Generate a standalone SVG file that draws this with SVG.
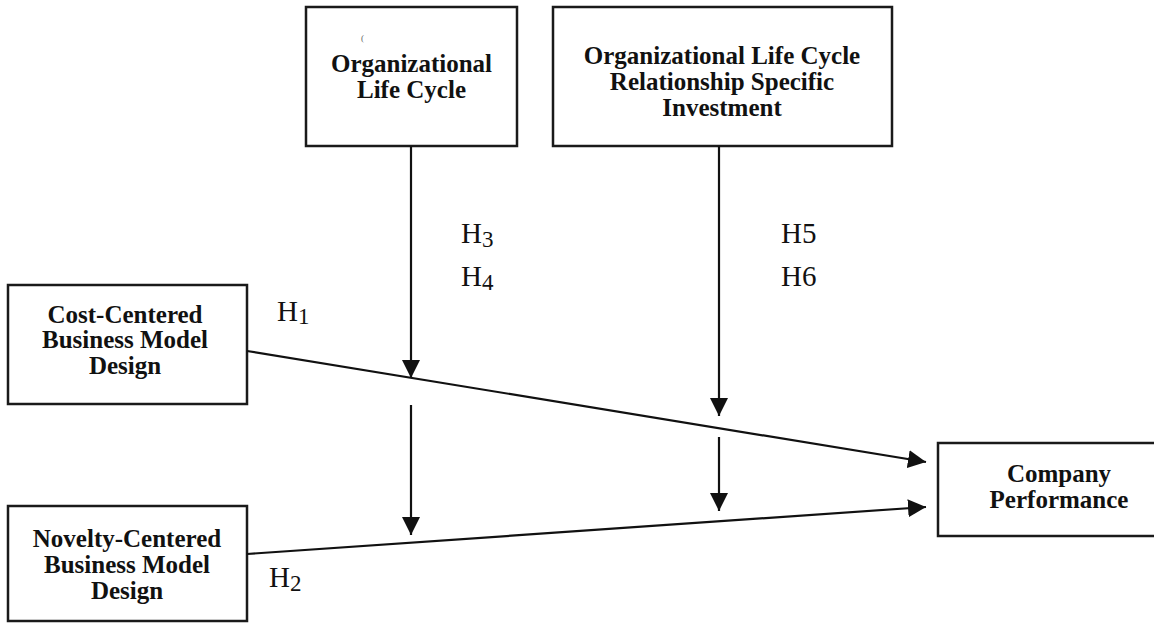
<svg xmlns="http://www.w3.org/2000/svg" width="1154" height="623" viewBox="0 0 1154 623">
  <style>
    .box { fill: #ffffff; stroke: #1a1a1a; stroke-width: 2.5; }
    .label { font-family: "Liberation Serif", "Times New Roman", serif; font-weight: bold; font-size: 25px; fill: #111; text-anchor: middle; }
    .hyp { font-family: "Liberation Serif", "Times New Roman", serif; font-size: 29px; fill: #111; }
    .sub { font-size: 23px; }
    .link { stroke: #111; stroke-width: 2.2; fill: none; marker-end: url(#arrow); }
  </style>
  <defs>
    <marker id="arrow" markerUnits="userSpaceOnUse" markerWidth="20" markerHeight="20" refX="18" refY="9" orient="auto">
      <path d="M0,0 L18,9 L0,18 Z" fill="#111"/>
    </marker>
  </defs>

  <rect width="1154" height="623" fill="#ffffff"/>

  <!-- moderator: organizational life cycle -->
  <g id="node-olc">
    <rect class="box" x="306" y="7" width="211" height="139"/>
    <text x="361" y="41" font-family="Liberation Serif, serif" font-size="9" fill="#666">(</text>
    <text class="label" x="411.5" y="72">Organizational</text>
    <text class="label" x="411.5" y="98">Life Cycle</text>
  </g>

  <!-- moderator: relationship specific investment -->
  <g id="node-rsi">
    <rect class="box" x="553" y="7" width="339" height="139"/>
    <text class="label" x="722" y="64">Organizational Life Cycle</text>
    <text class="label" x="722" y="90">Relationship Specific</text>
    <text class="label" x="722" y="116">Investment</text>
  </g>

  <!-- independent: cost-centered design -->
  <g id="node-cost">
    <rect class="box" x="8" y="285" width="239" height="119"/>
    <text class="label" x="125" y="323">Cost-Centered</text>
    <text class="label" x="125" y="348">Business Model</text>
    <text class="label" x="125" y="374">Design</text>
  </g>

  <!-- independent: novelty-centered design -->
  <g id="node-novelty">
    <rect class="box" x="8" y="506" width="239" height="115"/>
    <text class="label" x="127" y="547">Novelty-Centered</text>
    <text class="label" x="127" y="573">Business Model</text>
    <text class="label" x="127" y="599">Design</text>
  </g>

  <!-- dependent: company performance -->
  <g id="node-performance">
    <rect class="box" x="938" y="443" width="260" height="93"/>
    <text class="label" x="1059" y="482">Company</text>
    <text class="label" x="1059" y="508">Performance</text>
  </g>

  <!-- connectors -->
  <g id="connectors">
    <line class="link" x1="411" y1="146" x2="411" y2="378"/>
    <line class="link" x1="411" y1="405" x2="411" y2="535"/>
    <line class="link" x1="719" y1="146" x2="719" y2="416"/>
    <line class="link" x1="719" y1="437" x2="719" y2="511"/>
    <line class="link" x1="247" y1="351" x2="926" y2="462"/>
    <line class="link" x1="247" y1="554" x2="926" y2="507"/>
  </g>

  <!-- hypothesis labels -->
  <g id="hypotheses">
    <text class="hyp" x="277" y="321">H<tspan class="sub" dy="3">1</tspan></text>
    <text class="hyp" x="269" y="587">H<tspan class="sub" dy="4">2</tspan></text>
    <text class="hyp" x="461" y="243">H<tspan class="sub" dy="4">3</tspan></text>
    <text class="hyp" x="461" y="286">H<tspan class="sub" dy="4">4</tspan></text>
    <text class="hyp" x="781" y="243">H5</text>
    <text class="hyp" x="781" y="286">H6</text>
  </g>
</svg>
